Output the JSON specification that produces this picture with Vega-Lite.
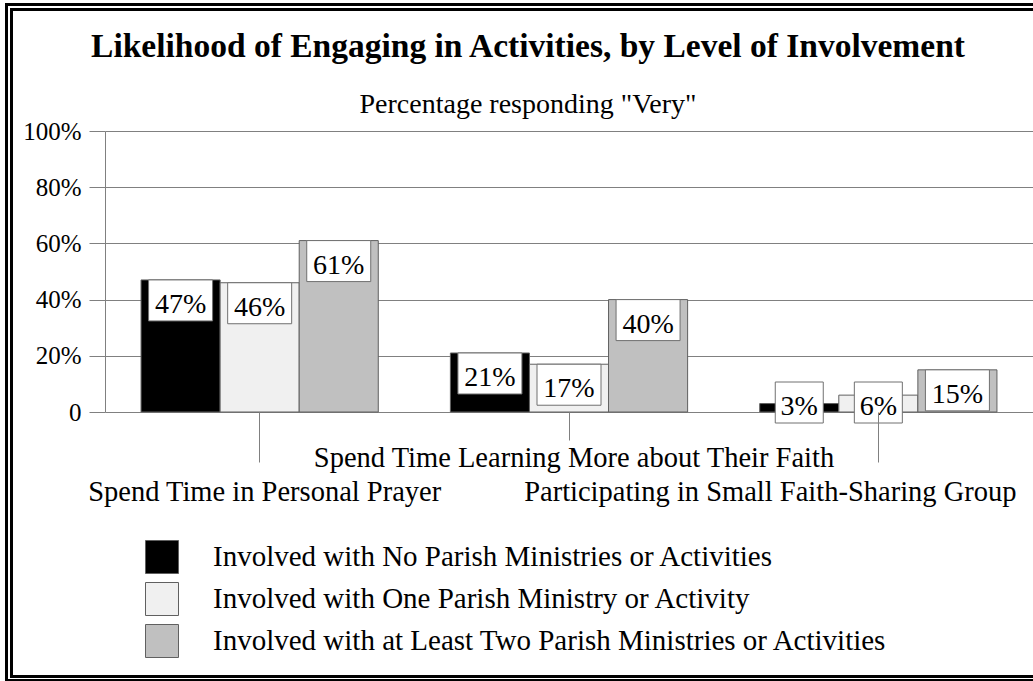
{
  "$schema": "https://vega.github.io/schema/vega-lite/v6.json",
  "width": 928,
  "height": 281,
  "autosize": {"type": "none"},
  "padding": {"left": 105, "top": 131, "right": 0, "bottom": 269},
  "background": "white",
  "config": {"view": {"stroke": null}, "font": "Liberation Serif"},
  "title": {
    "text": "Likelihood of Engaging in Activities, by Level of Involvement",
    "subtitle": "Percentage responding \"Very\"",
    "font": "Liberation Serif",
    "fontSize": 33.5,
    "fontWeight": "bold",
    "color": "black",
    "subtitleFont": "Liberation Serif",
    "subtitleFontSize": 28,
    "subtitleColor": "black",
    "subtitlePadding": 27,
    "anchor": "middle",
    "frame": "group",
    "dx": -41,
    "offset": -117
  },
  "data": {
    "values": [
      {"activity": "Spend Time in Personal Prayer", "group": "Involved with No Parish Ministries or Activities", "value": 0.47},
      {"activity": "Spend Time in Personal Prayer", "group": "Involved with One Parish Ministry or Activity", "value": 0.46},
      {"activity": "Spend Time in Personal Prayer", "group": "Involved with at Least Two Parish Ministries or Activities", "value": 0.61},
      {"activity": "Spend Time Learning More about Their Faith", "group": "Involved with No Parish Ministries or Activities", "value": 0.21},
      {"activity": "Spend Time Learning More about Their Faith", "group": "Involved with One Parish Ministry or Activity", "value": 0.17},
      {"activity": "Spend Time Learning More about Their Faith", "group": "Involved with at Least Two Parish Ministries or Activities", "value": 0.40},
      {"activity": "Participating in Small Faith-Sharing Group", "group": "Involved with No Parish Ministries or Activities", "value": 0.03},
      {"activity": "Participating in Small Faith-Sharing Group", "group": "Involved with One Parish Ministry or Activity", "value": 0.06},
      {"activity": "Participating in Small Faith-Sharing Group", "group": "Involved with at Least Two Parish Ministries or Activities", "value": 0.15}
    ]
  },
  "layer": [
    {
      "data": {"values": [{"part": "outer frame"}]},
      "mark": {"type": "rect", "fillOpacity": 0, "stroke": "black", "strokeWidth": 3, "xOffset": -98.5, "x2Offset": 400, "yOffset": -126.5, "y2Offset": 268.5},
      "encoding": {
        "x": {"datum": "Spend Time in Personal Prayer", "type": "nominal", "bandPosition": 0},
        "x2": {"datum": "Participating in Small Faith-Sharing Group"},
        "y": {"datum": 1, "type": "quantitative"},
        "y2": {"datum": 0}
      }
    },
    {
      "data": {"values": [{"part": "inner frame"}]},
      "mark": {"type": "rect", "fillOpacity": 0, "stroke": "black", "strokeWidth": 3, "xOffset": -93.5, "x2Offset": 400, "yOffset": -121.5, "y2Offset": 264.5},
      "encoding": {
        "x": {"datum": "Spend Time in Personal Prayer", "type": "nominal", "bandPosition": 0},
        "x2": {"datum": "Participating in Small Faith-Sharing Group"},
        "y": {"datum": 1, "type": "quantitative"},
        "y2": {"datum": 0}
      }
    },
    {
      "mark": {"type": "bar", "stroke": "#606060", "strokeWidth": 1},
      "encoding": {
        "x": {
          "field": "activity", "type": "nominal", "sort": null,
          "scale": {"domain": ["Spend Time in Personal Prayer", "Spend Time Learning More about Their Faith", "Participating in Small Faith-Sharing Group"], "paddingInner": 0, "paddingOuter": 0},
          "axis": {
            "title": null,
            "domain": false,
            "labelAngle": 0,
            "labelAlign": "center",
            "labelFont": "Liberation Serif",
            "labelFontSize": 28.5,
            "labelColor": "black",
            "labelBaseline": "alphabetic",
            "labelLimit": 0,
            "labelOverlap": false,
            "labelOffset": {"condition": {"test": "datum.value == 'Participating in Small Faith-Sharing Group'", "value": -108}, "value": 5},
            "labelPadding": {"condition": {"test": "datum.value == 'Spend Time Learning More about Their Faith'", "value": 26}, "value": 38},
            "tickSize": {"condition": {"test": "datum.value == 'Spend Time Learning More about Their Faith'", "value": 28}, "value": 50},
            "tickColor": "#808080",
            "tickWidth": 1
          }
        },
        "xOffset": {
          "field": "group", "type": "nominal",
          "scale": {"domain": ["Involved with No Parish Ministries or Activities", "Involved with One Parish Ministry or Activity", "Involved with at Least Two Parish Ministries or Activities"], "paddingInner": 0, "paddingOuter": 0.456}
        },
        "y": {
          "field": "value", "type": "quantitative",
          "scale": {"domain": [0, 1], "nice": false},
          "axis": {
            "title": null,
            "values": [0, 0.2, 0.4, 0.6, 0.8, 1],
            "format": ".0%",
            "labelExpr": "datum.value == 0 ? '0' : datum.label",
            "labelFont": "Liberation Serif",
            "labelFontSize": 25,
            "labelColor": "black",
            "labelPadding": 8,
            "tickSize": 16,
            "tickColor": "#808080",
            "domainColor": "#808080",
            "grid": true,
            "gridColor": "#808080",
            "gridWidth": 1
          }
        },
        "fill": {
          "field": "group", "type": "nominal",
          "scale": {
            "domain": ["Involved with No Parish Ministries or Activities", "Involved with One Parish Ministry or Activity", "Involved with at Least Two Parish Ministries or Activities"],
            "range": ["#000000", "#f0f0f0", "#c0c0c0"]
          },
          "legend": {
            "orient": "none",
            "legendX": 40,
            "legendY": 409,
            "title": null,
            "padding": 0,
            "symbolType": "square",
            "symbolSize": 1089,
            "symbolStrokeColor": "#606060",
            "symbolStrokeWidth": 1,
            "labelFont": "Liberation Serif",
            "labelFontSize": 29,
            "labelColor": "black",
            "labelOffset": 34,
            "labelLimit": 0,
            "rowPadding": 4
          }
        }
      }
    },
    {
      "transform": [{"filter": "datum.value >= 0.1"}],
      "mark": {"type": "bar", "fill": "white", "stroke": "#707070", "strokeWidth": 1, "width": 64, "y2Offset": 41},
      "encoding": {
        "x": {"field": "activity", "type": "nominal", "sort": null},
        "xOffset": {"field": "group", "type": "nominal"},
        "y": {"field": "value", "type": "quantitative"},
        "y2": {"field": "value"}
      }
    },
    {
      "transform": [{"filter": "datum.value < 0.1"}],
      "mark": {"type": "bar", "fill": "white", "stroke": "#707070", "strokeWidth": 1, "width": 48, "yOffset": -30, "y2Offset": 11},
      "encoding": {
        "x": {"field": "activity", "type": "nominal", "sort": null},
        "xOffset": {"field": "group", "type": "nominal"},
        "y": {"datum": 0, "type": "quantitative"},
        "y2": {"datum": 0}
      }
    },
    {
      "transform": [{"filter": "datum.value >= 0.1"}],
      "mark": {"type": "text", "font": "Liberation Serif", "fontSize": 28, "color": "black", "align": "center", "baseline": "alphabetic", "yOffset": 33},
      "encoding": {
        "x": {"field": "activity", "type": "nominal", "sort": null},
        "xOffset": {"field": "group", "type": "nominal"},
        "y": {"field": "value", "type": "quantitative"},
        "text": {"field": "value", "type": "quantitative", "format": ".0%"}
      }
    },
    {
      "transform": [{"filter": "datum.value < 0.1"}],
      "mark": {"type": "text", "font": "Liberation Serif", "fontSize": 28, "color": "black", "align": "center", "baseline": "alphabetic", "yOffset": 3},
      "encoding": {
        "x": {"field": "activity", "type": "nominal", "sort": null},
        "xOffset": {"field": "group", "type": "nominal"},
        "y": {"datum": 0, "type": "quantitative"},
        "text": {"field": "value", "type": "quantitative", "format": ".0%"}
      }
    }
  ]
}
